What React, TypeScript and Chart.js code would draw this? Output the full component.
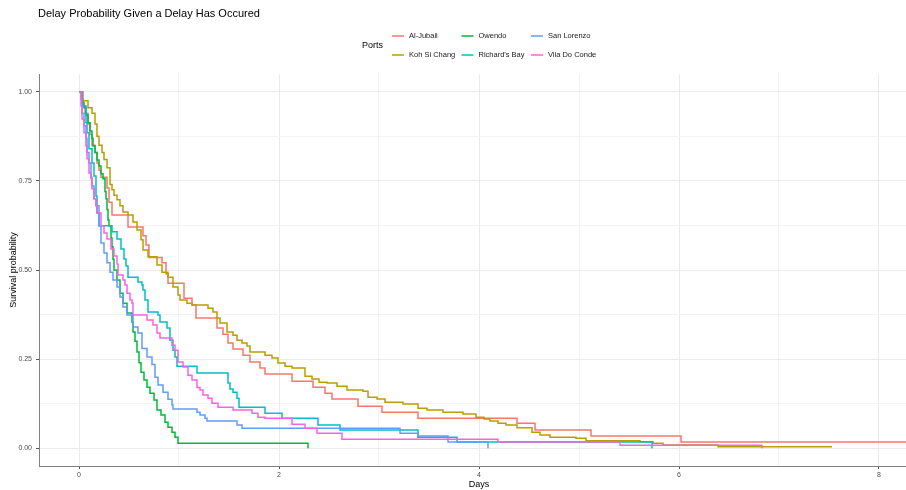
import React, { useEffect, useRef } from 'react';
import { Chart, registerables } from 'chart.js';

Chart.register(...registerables);

const FONT = '"Liberation Sans", Arial, sans-serif';

const TITLE = 'Delay Probability Given a Delay Has Occured';
const LEGEND_TITLE = 'Ports';
const X_TITLE = 'Days';
const Y_TITLE = 'Survival probability';

const PORTS = ['Al-Jubail', 'Koh Si Chang', 'Owendo', "Richard's Bay", 'San Lorenzo', 'Vila Do Conde'];
const COLORS = ['#F8766D', '#B79F00', '#00BA38', '#00BFC4', '#619CFF', '#F564E3'];

const X_TICKS = [0, 1, 2, 3, 4, 5, 6, 7, 8];
const Y_TICKS = [0, 0.125, 0.25, 0.375, 0.5, 0.625, 0.75, 0.875, 1];

// [days, survival probability]
const alJubail: [number, number][] = [
  [0, 1], [0.02, 0.98], [0.04, 0.96], [0.06, 0.94], [0.09, 0.91], [0.11, 0.88], [0.13, 0.85],
  [0.16, 0.83], [0.18, 0.80], [0.20, 0.78], [0.22, 0.76], [0.28, 0.73], [0.30, 0.69], [0.33, 0.654],
  [0.49, 0.621], [0.64, 0.596], [0.67, 0.57], [0.70, 0.535], [0.83, 0.52], [0.87, 0.489], [0.89, 0.463],
  [1.05, 0.421], [1.13, 0.402], [1.17, 0.365], [1.38, 0.337], [1.44, 0.32], [1.49, 0.295], [1.54, 0.278],
  [1.64, 0.261], [1.71, 0.242], [1.81, 0.225], [1.86, 0.208], [2.13, 0.188], [2.34, 0.171], [2.46, 0.154],
  [2.53, 0.138], [2.79, 0.118], [3.03, 0.101], [3.39, 0.084], [4.38, 0.070], [4.56, 0.051], [5.12, 0.034],
  [6.02, 0.017], [8.6, 0.017],
];

const kohSiChang: [number, number][] = [
  [0, 1], [0.04, 0.975], [0.09, 0.955], [0.13, 0.94], [0.16, 0.91], [0.18, 0.875], [0.20, 0.85],
  [0.23, 0.83], [0.25, 0.81], [0.28, 0.787], [0.31, 0.74], [0.33, 0.725], [0.35, 0.71], [0.38, 0.697],
  [0.41, 0.68], [0.44, 0.663], [0.49, 0.654], [0.54, 0.635], [0.58, 0.612], [0.62, 0.585], [0.64, 0.556],
  [0.69, 0.537], [0.78, 0.514], [0.83, 0.494], [0.89, 0.48], [0.94, 0.452], [0.99, 0.43], [1.01, 0.416],
  [1.08, 0.407], [1.13, 0.402], [1.29, 0.393], [1.34, 0.382], [1.38, 0.365], [1.41, 0.351], [1.48, 0.326],
  [1.54, 0.317], [1.58, 0.303], [1.63, 0.295], [1.68, 0.287], [1.71, 0.27], [1.86, 0.261], [1.93, 0.253],
  [1.99, 0.239], [2.06, 0.23], [2.13, 0.225], [2.26, 0.202], [2.33, 0.194], [2.40, 0.185], [2.48, 0.183],
  [2.58, 0.174], [2.68, 0.163], [2.84, 0.160], [2.89, 0.143], [2.98, 0.138], [3.06, 0.129], [3.24, 0.124],
  [3.39, 0.112], [3.48, 0.107], [3.64, 0.101], [3.84, 0.096], [3.97, 0.087], [4.05, 0.082], [4.11, 0.076],
  [4.19, 0.070], [4.27, 0.065], [4.38, 0.057], [4.53, 0.045], [4.61, 0.037], [4.71, 0.031], [4.97, 0.028],
  [5.07, 0.021], [5.61, 0.018], [5.74, 0.014], [5.84, 0.009], [6.39, 0.004], [7.53, 0.004],
];

const owendo: [number, number][] = [
  [0, 1], [0.03, 0.97], [0.05, 0.955], [0.07, 0.935], [0.09, 0.913], [0.11, 0.89], [0.13, 0.87],
  [0.14, 0.848], [0.16, 0.83], [0.18, 0.809], [0.20, 0.792], [0.22, 0.77], [0.24, 0.756], [0.26, 0.72],
  [0.27, 0.70], [0.28, 0.67], [0.29, 0.64], [0.30, 0.624], [0.32, 0.59], [0.33, 0.565], [0.34, 0.53],
  [0.35, 0.50], [0.38, 0.472], [0.41, 0.435], [0.44, 0.407], [0.48, 0.379], [0.53, 0.354], [0.54, 0.326],
  [0.56, 0.30], [0.58, 0.27], [0.60, 0.24], [0.62, 0.213], [0.65, 0.191], [0.68, 0.171], [0.71, 0.154],
  [0.75, 0.135], [0.78, 0.107], [0.82, 0.093], [0.86, 0.073], [0.89, 0.059], [0.93, 0.045], [0.96, 0.031],
  [0.99, 0.014], [2.29, 0],
];

const richardsBay: [number, number][] = [
  [0, 1], [0.03, 0.96], [0.07, 0.913], [0.08, 0.885], [0.10, 0.84], [0.13, 0.80], [0.15, 0.764],
  [0.17, 0.708], [0.18, 0.66], [0.20, 0.624], [0.33, 0.607], [0.38, 0.587], [0.42, 0.559], [0.45, 0.531],
  [0.47, 0.511], [0.49, 0.48], [0.59, 0.466], [0.63, 0.458], [0.64, 0.444], [0.66, 0.416], [0.69, 0.382],
  [0.79, 0.374], [0.81, 0.354], [0.88, 0.337], [0.91, 0.303], [0.94, 0.275], [0.96, 0.256], [0.98, 0.230],
  [1.18, 0.211], [1.49, 0.183], [1.51, 0.166], [1.54, 0.157], [1.58, 0.14], [1.60, 0.115], [1.86, 0.098],
  [2.03, 0.084], [2.39, 0.065], [2.61, 0.051], [3.39, 0.031], [3.78, 0.017], [5.73, 0],
];

const sanLorenzo: [number, number][] = [
  [0, 1], [0.03, 0.94], [0.05, 0.905], [0.07, 0.87], [0.08, 0.83], [0.10, 0.80], [0.12, 0.76],
  [0.13, 0.736], [0.15, 0.70], [0.17, 0.68], [0.20, 0.624], [0.22, 0.576], [0.25, 0.548], [0.28, 0.52],
  [0.31, 0.494], [0.34, 0.472], [0.38, 0.452], [0.41, 0.424], [0.44, 0.396], [0.48, 0.374], [0.54, 0.34],
  [0.59, 0.323], [0.63, 0.28], [0.68, 0.256], [0.73, 0.235], [0.76, 0.199], [0.79, 0.177], [0.84, 0.157],
  [0.89, 0.137], [0.93, 0.121], [0.94, 0.110], [1.18, 0.101], [1.21, 0.093], [1.26, 0.084], [1.28, 0.076],
  [1.58, 0.065], [1.63, 0.056], [3.21, 0.042], [3.39, 0.034], [3.69, 0.017], [4.09, 0],
];

const vilaDoConde: [number, number][] = [
  [0, 1], [0.02, 0.96], [0.03, 0.924], [0.05, 0.885], [0.07, 0.848], [0.08, 0.812], [0.10, 0.772],
  [0.12, 0.756], [0.13, 0.728], [0.15, 0.70], [0.17, 0.68], [0.18, 0.66], [0.22, 0.624], [0.25, 0.604],
  [0.28, 0.587], [0.32, 0.559], [0.35, 0.539], [0.38, 0.517], [0.39, 0.486], [0.44, 0.472], [0.46, 0.458],
  [0.48, 0.435], [0.51, 0.416], [0.53, 0.407], [0.54, 0.374], [0.68, 0.36], [0.74, 0.346], [0.78, 0.323],
  [0.81, 0.309], [0.93, 0.289], [0.96, 0.275], [0.99, 0.242], [1.04, 0.228], [1.09, 0.205], [1.13, 0.191],
  [1.18, 0.17], [1.21, 0.163], [1.24, 0.149], [1.29, 0.140], [1.33, 0.126], [1.39, 0.115], [1.54, 0.107],
  [1.73, 0.098], [1.79, 0.087], [1.86, 0.084], [2.13, 0.067], [2.26, 0.056], [2.38, 0.042], [2.63, 0.025],
  [4.19, 0.017], [5.41, 0.008], [6.83, 0],
];

const SERIES = [alJubail, kohSiChang, owendo, richardsBay, sanLorenzo, vilaDoConde];

const isMajorX = (v: number) => Math.abs(v % 2) < 1e-9;
const isMajorY = (v: number) => Math.abs(v * 4 - Math.round(v * 4)) < 1e-9;

const headerPlugin = {
  id: 'header',
  afterDraw(chart: any) {
    const ctx = chart.ctx;
    ctx.save();
    ctx.textBaseline = 'middle';
    ctx.textAlign = 'left';
    ctx.fillStyle = '#000000';
    ctx.font = `11px ${FONT}`;
    ctx.fillText(TITLE, 38, 14);
    ctx.font = `9px ${FONT}`;
    ctx.fillText(LEGEND_TITLE, 362, 46);
    ctx.font = `7.5px ${FONT}`;
    PORTS.forEach((name, i) => {
      const col = Math.floor(i / 2);
      const row = i % 2;
      const x = 392 + col * 69.5;
      const y = 36 + row * 19;
      ctx.strokeStyle = COLORS[i];
      ctx.lineWidth = 1.5;
      ctx.beginPath();
      ctx.moveTo(x, y);
      ctx.lineTo(x + 12, y);
      ctx.stroke();
      ctx.fillStyle = '#1A1A1A';
      ctx.fillText(name, x + 17, y);
    });
    ctx.restore();
  },
};

export default function App() {
  const canvasRef = useRef<HTMLCanvasElement | null>(null);

  useEffect(() => {
    const canvas = canvasRef.current;
    if (!canvas) return;
    const chart = new Chart(canvas, {
      type: 'line',
      data: {
        datasets: SERIES.map((s, i) => ({
          label: PORTS[i],
          data: s.map(([x, y]) => ({ x, y })),
          borderColor: COLORS[i],
          backgroundColor: COLORS[i],
          borderWidth: 1.5,
          pointRadius: 0,
          stepped: 'before' as const,
          fill: false,
          tension: 0,
          order: SERIES.length - i,
        })),
      },
      options: {
        responsive: false,
        maintainAspectRatio: false,
        animation: false,
        parsing: true,
        layout: { padding: { top: 74, left: 0, right: 0, bottom: 0 } },
        plugins: {
          legend: { display: false },
          title: { display: false },
          tooltip: { enabled: false },
        },
        scales: {
          x: {
            type: 'linear',
            min: -0.4,
            max: 8.4,
            afterFit: (s: any) => { s.height = 24; },
            afterBuildTicks: (s: any) => { s.ticks = X_TICKS.map((v) => ({ value: v })); },
            ticks: {
              autoSkip: false,
              maxRotation: 0,
              padding: 2,
              color: '#4D4D4D',
              font: { size: 7, family: FONT },
              callback: (v: any) => (isMajorX(Number(v)) ? String(v) : ''),
            },
            grid: {
              color: (c: any) => (c.tick && isMajorX(c.tick.value) ? '#EBEBEB' : '#F3F3F3'),
              lineWidth: 1,
              tickLength: 3,
              tickColor: (c: any) => (c.tick && isMajorX(c.tick.value) ? '#555555' : 'rgba(0,0,0,0)'),
            },
            border: { display: true, color: '#7F7F7F', width: 1 },
            title: {
              display: true,
              text: X_TITLE,
              color: '#000000',
              font: { size: 9, family: FONT },
              padding: { top: 0, bottom: 0 },
            },
          },
          y: {
            type: 'linear',
            min: -0.05,
            max: 1.05,
            afterFit: (s: any) => { s.width = 39; },
            afterBuildTicks: (s: any) => { s.ticks = Y_TICKS.map((v) => ({ value: v })); },
            ticks: {
              autoSkip: false,
              padding: 4,
              color: '#4D4D4D',
              font: { size: 7, family: FONT },
              callback: (v: any) => (isMajorY(Number(v)) ? Number(v).toFixed(2) : ''),
            },
            grid: {
              color: (c: any) => (c.tick && isMajorY(c.tick.value) ? '#EBEBEB' : '#F3F3F3'),
              lineWidth: 1,
              tickLength: 3,
              tickColor: (c: any) => (c.tick && isMajorY(c.tick.value) ? '#555555' : 'rgba(0,0,0,0)'),
            },
            border: { display: true, color: '#7F7F7F', width: 1 },
            title: {
              display: true,
              text: Y_TITLE,
              color: '#000000',
              font: { size: 9, family: FONT },
              padding: { top: 8, bottom: 0 },
            },
          },
        },
      },
      plugins: [headerPlugin],
    } as any);
    return () => chart.destroy();
  }, []);

  return (
    <div
      style={{
        position: 'absolute',
        left: 0,
        top: 0,
        width: 906,
        height: 490,
        overflow: 'hidden',
        background: '#FFFFFF',
      }}
    >
      <canvas ref={canvasRef} width={919} height={490} style={{ display: 'block', width: 919, height: 490 }} />
    </div>
  );
}
